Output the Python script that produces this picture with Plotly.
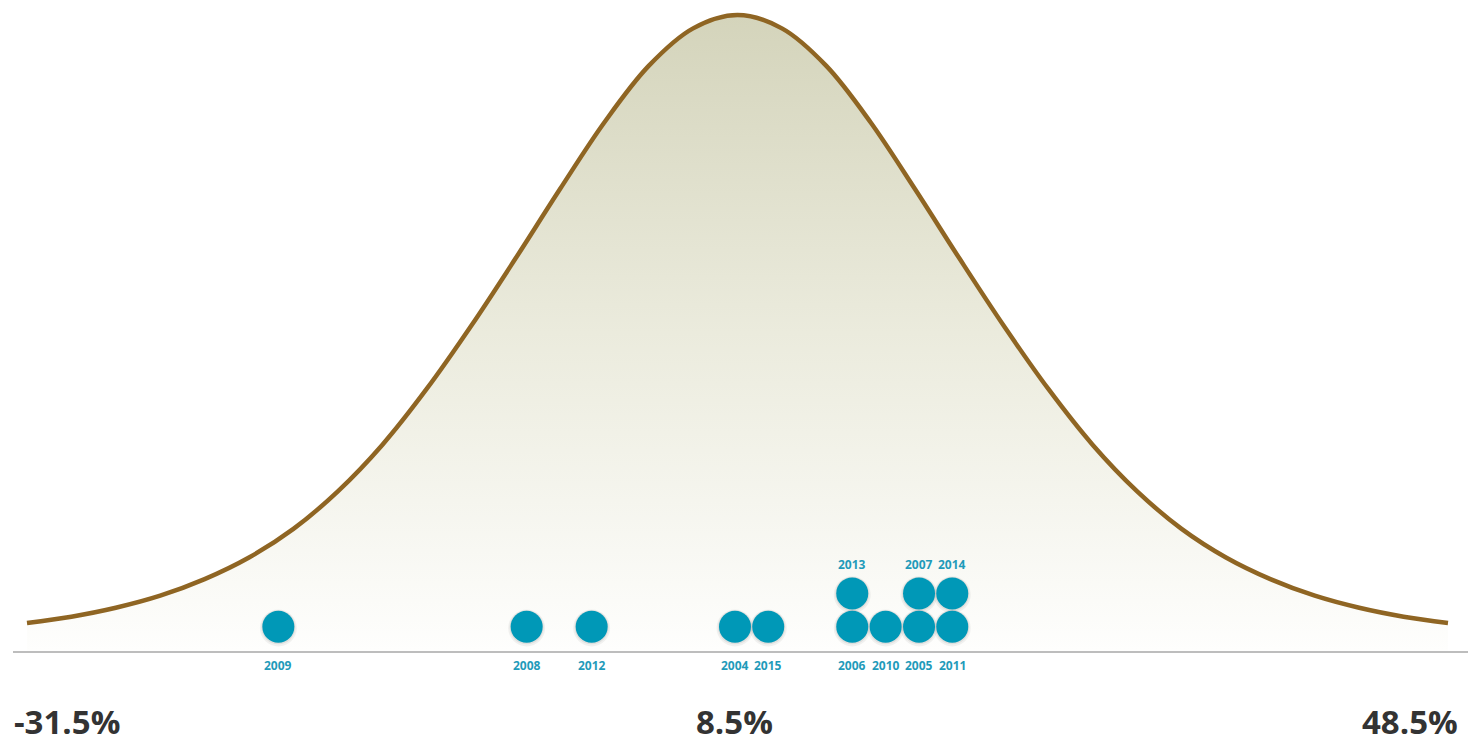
import plotly.graph_objects as go

# ---------------- data ----------------
# bell curve: x in %, height as % of peak
curve_x = [-31.5, -29.0, -26.5, -24.0, -21.5, -19.0, -16.5, -14.0, -11.5, -9.0, -6.5, -4.0,
           -1.5, 1.0, 3.5, 6.0, 8.5, 11.0, 13.5, 16.0, 18.5, 21.0, 23.5, 26.0, 28.5, 31.0,
           33.5, 36.0, 38.5, 41.0, 43.5, 46.0, 48.5]
curve_h = [4.4, 5.4, 6.8, 8.7, 11.3, 14.7, 19.2, 25.1, 32.4, 41.2, 51.1, 61.7,
           72.6, 83.1, 92.0, 97.9, 100.0, 97.9, 92.0, 83.1, 72.6, 61.7, 51.1, 41.2, 32.4, 25.1,
           19.2, 14.7, 11.3, 8.7, 6.8, 5.4, 4.4]

# yearly returns (%) and stacking level of each dot
years   = ["2009", "2008", "2012", "2004", "2015", "2006", "2013", "2010", "2005", "2007", "2011", "2014"]
returns = [-17.35, -3.37, 0.29, 8.36, 10.23, 14.96, 14.96, 16.84, 18.72, 18.72, 20.59, 20.59]
levels  = [0, 0, 0, 0, 0, 0, 1, 0, 0, 1, 0, 1]

axis_labels = ["-31.5%", "8.5%", "48.5%"]
axis_values = [-31.5, 8.5, 48.5]

# ---------------- styles ----------------
DOT = "#0098b7"
LABEL = "#1f9bba"
CURVE = "#8f6523"

fig = go.Figure()

fig.add_trace(go.Scatter(
    x=curve_x, y=curve_h, mode="lines",
    line=dict(color=CURVE, width=4.5, shape="spline", smoothing=1.0),
    fill="tozeroy",
    fillgradient=dict(type="vertical",
                      colorscale=[[0, "#fefefd"], [0.5, "#ebebdd"], [1, "#d4d4bb"]],
                      start=0, stop=100),
    hoverinfo="skip", showlegend=False,
))

# soft shadow under dots
fig.add_trace(go.Scatter(
    x=returns, y=[l - 0.04 for l in levels], mode="markers", yaxis="y2",
    marker=dict(size=37, color="rgba(0,0,0,0.05)", line=dict(width=0)),
    hoverinfo="skip", showlegend=False,
))
fig.add_trace(go.Scatter(
    x=returns, y=[l - 0.02 for l in levels], mode="markers", yaxis="y2",
    marker=dict(size=34, color="rgba(0,0,0,0.07)", line=dict(width=0)),
    hoverinfo="skip", showlegend=False,
))
fig.add_trace(go.Scatter(
    x=returns, y=levels, mode="markers", yaxis="y2",
    marker=dict(size=32, color=DOT, line=dict(width=0)),
    text=years, hovertemplate="%{text}: %{x:.1f}%<extra></extra>",
    showlegend=False,
))

annotations = []
for yr, r, lv in zip(years, returns, levels):
    annotations.append(dict(
        x=r, y=lv, xref="x", yref="y2", text=f"<b>{yr}</b>", showarrow=False,
        yshift=(-39 if lv == 0 else 28.5), xanchor="center", yanchor="middle",
        font=dict(family="Open Sans", size=12, color=LABEL),
    ))

anchors = ["left", "center", "right"]
shifts = [-15, -3, 12]
for lab, v, a, s in zip(axis_labels, axis_values, anchors, shifts):
    annotations.append(dict(
        x=v, y=-0.1459, xref="x", yref="paper", text=f"<b>{lab}</b>", showarrow=False,
        xanchor=a, yanchor="bottom", xshift=s,
        font=dict(family="Open Sans", size=33, color="#333333"),
    ))

fig.update_layout(
    width=1468, height=746,
    margin=dict(l=13, r=0, t=0, b=95),
    paper_bgcolor="white", plot_bgcolor="white",
    xaxis=dict(range=[-32.288, 49.626], showgrid=False, zeroline=False,
               showticklabels=False, ticks="", showline=True,
               linecolor="#bdbdbd", linewidth=2, fixedrange=True),
    yaxis=dict(range=[0, 102.36], visible=False, fixedrange=True),
    yaxis2=dict(range=[-0.730, 18.82], overlaying="y", visible=False, fixedrange=True),
    annotations=annotations,
    showlegend=False,
)

fig.write_html("out.html")
